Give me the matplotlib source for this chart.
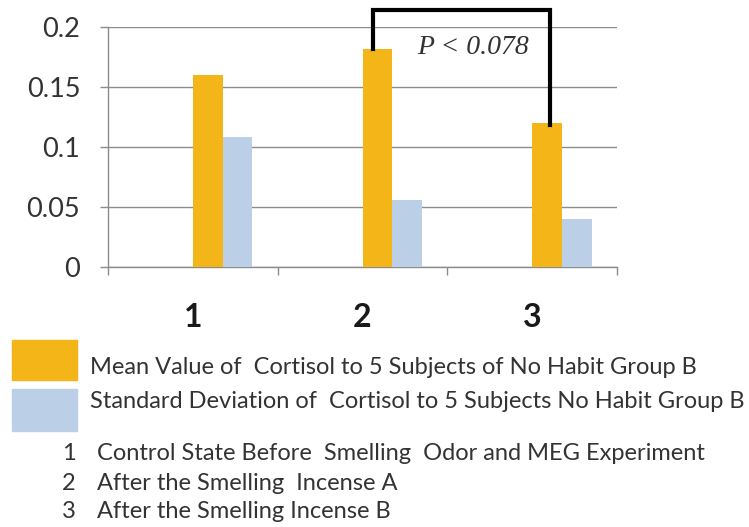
import matplotlib
matplotlib.use("Agg")
import matplotlib.pyplot as plt
from matplotlib.patches import Rectangle

categories = ["1", "2", "3"]
mean_values = [0.160, 0.182, 0.120]
std_values = [0.108, 0.056, 0.040]
y_ticks = [0, 0.05, 0.1, 0.15, 0.2]
y_tick_labels = ["0", "0.05", "0.1", "0.15", "0.2"]
legend_labels = ["Mean Value of  Cortisol to 5 Subjects of No Habit Group B",
                 "Standard Deviation of  Cortisol to 5 Subjects No Habit Group B"]
notes = ["Control State Before  Smelling  Odor and MEG Experiment",
         "After the Smelling  Incense A",
         "After the Smelling Incense B"]
p_text = "P < 0.078"

ORANGE = "#F3B517"
BLUE = "#BBCFE7"
GRID = "#8C8C8C"
TXT = "#333333"

W, H = 749, 527
fig = plt.figure(figsize=(W / 100, H / 100), dpi=100)
ax = fig.add_axes([108 / W, 1 - 267 / H, 509 / W, 240 / H])

bw = 0.175
centers = [i + 0.5 for i in range(len(categories))]
ax.bar([c for c in centers], mean_values, width=bw, align="edge", color=ORANGE, zorder=3)
ax.bar([c + bw for c in centers], std_values, width=bw, align="edge", color=BLUE, zorder=3)

ax.set_xlim(0, len(categories))
ax.set_ylim(0, 0.2)
ax.set_yticks(y_ticks)
ax.set_yticklabels(y_tick_labels, fontsize=19.5, color=TXT, family="Lato")
ax.set_xticks(range(len(categories) + 1))
ax.set_xticklabels([""] * (len(categories) + 1))
ax.set_xticks(centers, minor=True)
ax.set_xticklabels(categories, minor=True, fontsize=23, fontweight="bold",
                   color="#1a1a1a", family="Lato")
ax.tick_params(axis="x", which="minor", length=0, pad=26)
ax.tick_params(axis="x", which="major", length=6, color=GRID, width=1)
ax.tick_params(axis="y", length=6, color=GRID, width=1, pad=14)
ax.yaxis.grid(True, color=GRID, linewidth=1, zorder=0)
for s in ["top", "right"]:
    ax.spines[s].set_visible(False)
for s in ["left", "bottom"]:
    ax.spines[s].set_color(GRID)
    ax.spines[s].set_linewidth(1)

# significance bracket between bars 2 and 3 (mean)
xl = centers[1] + bw * 0.35
xr = centers[2] + bw * 0.6
ytop = 0.214
ax.plot([xl, xl, xr, xr], [mean_values[1], ytop, ytop, mean_values[2] - 0.002],
        color="black", lw=3, clip_on=False, zorder=5, solid_joinstyle="miter")
ax.text((centers[1] + centers[2]) / 2 + 0.153, 0.183, p_text, fontsize=20,
        style="italic", family="Liberation Serif", color=TXT, ha="center", va="center")

# legend
fig.patches.append(Rectangle((12 / W, 1 - 380 / H), 65 / W, 40 / H, transform=fig.transFigure,
                             color=ORANGE))
fig.patches.append(Rectangle((12 / W, 1 - 431 / H), 65 / W, 42 / H, transform=fig.transFigure,
                             color=BLUE))
fs = 17
fig.text(90 / W, 1 - 368 / H, legend_labels[0], fontsize=fs, family="Lato", color=TXT,
         va="center", ha="left")
fig.text(90 / W, 1 - 402 / H, legend_labels[1], fontsize=fs, family="Lato", color=TXT,
         va="center", ha="left")
for i, (n, ys) in enumerate(zip(notes, [454, 483, 512])):
    fig.text(62 / W, 1 - ys / H, str(i + 1), fontsize=fs, family="Lato", color=TXT,
             va="center", ha="left")
    fig.text(97 / W, 1 - ys / H, n, fontsize=fs, family="Lato", color=TXT,
             va="center", ha="left")

fig.savefig("out.png", dpi=100)
